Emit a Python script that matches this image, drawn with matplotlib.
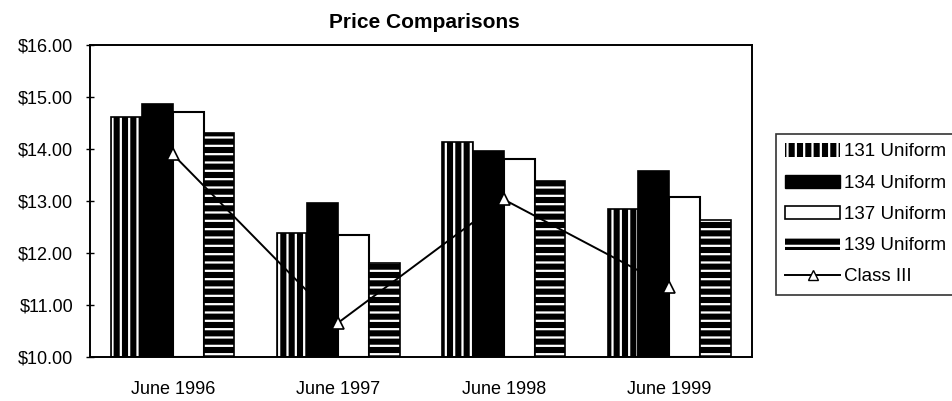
import matplotlib
matplotlib.use("Agg")
import matplotlib.pyplot as plt
import numpy as np
from matplotlib.lines import Line2D
from matplotlib.patches import Patch

plt.rcParams['font.family'] = ['Liberation Sans', 'DejaVu Sans']
plt.rcParams['hatch.linewidth'] = 1.6

categories = ["June 1996", "June 1997", "June 1998", "June 1999"]
u131 = [14.62, 12.38, 14.13, 12.84]
u134 = [14.87, 12.96, 13.97, 13.58]
u137 = [14.71, 12.34, 13.81, 13.08]
u139 = [14.31, 11.81, 13.38, 12.63]
class3 = [13.90, 10.66, 13.03, 11.35]
yticks = [10, 11, 12, 13, 14, 15, 16]
ytick_labels = ["$10.00", "$11.00", "$12.00", "$13.00", "$14.00", "$15.00", "$16.00"]

fig = plt.figure(figsize=(9.52, 4.01), dpi=100)
ax = fig.add_axes([90/952, 1-357/401, (752-90)/952, (357-45)/401])

x = np.arange(len(categories))
w = 0.186
# 131: black with white vertical lines
ax.bar(x - 1.5*w, [v - 10 for v in u131], w, bottom=10, color='black', edgecolor='white',
       hatch='||', linewidth=0, zorder=2)
ax.bar(x - 1.5*w, [v - 10 for v in u131], w, bottom=10, fill=False, edgecolor='black',
       linewidth=1.2, zorder=3)
# 134 solid black
ax.bar(x - 0.5*w, [v - 10 for v in u134], w, bottom=10, color='black', edgecolor='black',
       linewidth=1.2, zorder=2)
# 137 white
ax.bar(x + 0.5*w, [v - 10 for v in u137], w, bottom=10, color='white', edgecolor='black',
       linewidth=1.5, zorder=2)
# 139 black with white horizontal lines
ax.bar(x + 1.5*w, [v - 10 for v in u139], w, bottom=10, color='black', edgecolor='white',
       hatch='--', linewidth=0, zorder=2)
ax.bar(x + 1.5*w, [v - 10 for v in u139], w, bottom=10, fill=False, edgecolor='black',
       linewidth=1.2, zorder=3)

ax.plot(x, class3, color='black', linewidth=1.4, marker='^', markersize=8,
        markerfacecolor='white', markeredgecolor='black', markeredgewidth=1.2, zorder=4)

ax.set_xlim(-0.5, 3.5)
ax.set_ylim(10, 16)
ax.set_yticks(yticks)
ax.set_yticklabels(ytick_labels)
ax.set_xticks(x)
ax.set_xticklabels(categories)
ax.tick_params(axis='y', direction='inout', length=6, width=1, labelsize=13, pad=9)
ax.tick_params(axis='x', length=0, labelsize=13, pad=17)
for s in ax.spines.values():
    s.set_linewidth(1.4)
    s.set_color('black')

fig.text(424/952, 1-22/401, "Price Comparisons", ha='center', va='center',
         fontsize=15, fontweight='bold')

handles = [
    Patch(facecolor='black', edgecolor='white', hatch='||', linewidth=0),
    Patch(facecolor='black', edgecolor='black'),
    Patch(facecolor='white', edgecolor='black', linewidth=1.2),
    Patch(facecolor='black', edgecolor='white', hatch='--', linewidth=0),
    Line2D([0], [0], color='black', linewidth=1.4, marker='^', markersize=7,
           markerfacecolor='white', markeredgecolor='black'),
]
labels = ["131 Uniform", "134 Uniform", "137 Uniform", "139 Uniform", "Class III"]
leg = fig.legend(handles, labels, loc='upper left', bbox_to_anchor=(776/952, 1-134/401),
                 fontsize=13.5, frameon=True, fancybox=False, edgecolor='black',
                 handlelength=2.9, handleheight=0.7, handletextpad=0.2,
                 labelspacing=0.75, borderpad=0.5, borderaxespad=0)
leg.get_frame().set_linewidth(1.2)

fig.savefig("out.png", dpi=100)
